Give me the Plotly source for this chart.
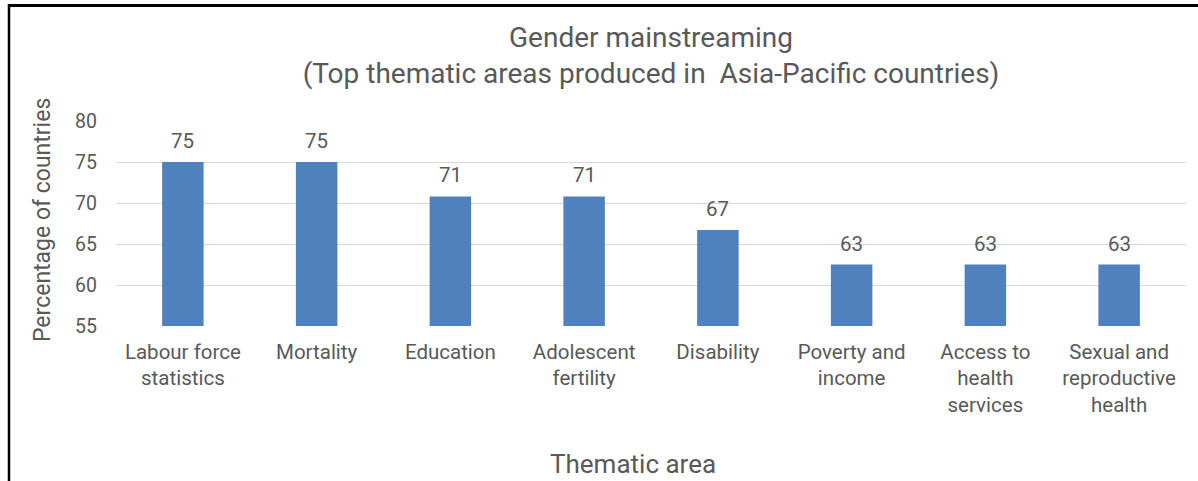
import math
import plotly.graph_objects as go

# Thematic areas and share of countries (%) producing gender statistics in each
categories = [
    "Labour force<br>statistics",
    "Mortality",
    "Education",
    "Adolescent<br>fertility",
    "Disability",
    "Poverty and<br>income",
    "Access to<br>health<br>services",
    "Sexual and<br>reproductive<br>health",
]
values = [75.0, 75.0, 70.8, 70.8, 66.7, 62.5, 62.5, 62.5]
y_ticks = [55, 60, 65, 70, 75, 80]

TEXT = "#595959"
FONT = "Roboto"
BAR = "#4F81BD"

W, H = 1198, 481
ML, MR, MT, MB = 116, 12, 121, 155
pw = W - ML - MR
ph = H - MT - MB


def px_x(x):
    return (x - ML) / pw


def px_y(y):
    return (H - MB - y) / ph


def half_up(v):
    return str(int(math.floor(v + 0.5)))


fig = go.Figure(
    go.Bar(
        x=categories,
        y=values,
        marker=dict(color=BAR, line=dict(width=0)),
        width=0.31,
        hoverinfo="x+y",
    )
)

annotations = [
    dict(
        x=c, y=v, xref="x", yref="y",
        text=half_up(v), showarrow=False,
        yanchor="bottom", yshift=7,
        font=dict(family=FONT, size=20.5, color=TEXT),
    )
    for c, v in zip(categories, values)
]

# Axis titles
annotations.append(dict(
    x=px_x(42), y=px_y(220), xref="paper", yref="paper",
    text="Percentage of countries", textangle=-90, showarrow=False,
    xanchor="center", yanchor="middle",
    font=dict(family=FONT, size=23, color=TEXT),
))
annotations.append(dict(
    x=px_x(633), y=px_y(464), xref="paper", yref="paper",
    text="Thematic area", showarrow=False,
    xanchor="center", yanchor="middle",
    font=dict(family=FONT, size=26, color=TEXT),
))

# Outer frame lines (top and left edges)
shapes = [
    dict(type="line", xref="paper", yref="paper",
         x0=px_x(8), x1=px_x(1198), y0=px_y(5.5), y1=px_y(5.5),
         line=dict(color="#000000", width=3)),
    dict(type="line", xref="paper", yref="paper",
         x0=px_x(9), x1=px_x(9), y0=px_y(4), y1=px_y(490),
         line=dict(color="#000000", width=2.5)),
]

fig.update_layout(
    width=W, height=H,
    margin=dict(l=ML, r=MR, t=MT, b=MB, pad=0),
    paper_bgcolor="white", plot_bgcolor="white",
    showlegend=False,
    font=dict(family=FONT, color=TEXT),
    title=dict(
        text="Gender mainstreaming<br>(Top thematic areas produced in  Asia-Pacific countries)",
        x=px_x(651), xanchor="center", xref="paper",
        y=1 - 47 / H, yanchor="middle",
        font=dict(family=FONT, size=28, color=TEXT),
    ),
    annotations=annotations,
    shapes=shapes,
    bargap=0.69,
)

fig.update_xaxes(
    showline=False, showgrid=False, ticks="",
    tickfont=dict(family=FONT, size=20.5, color=TEXT),
    ticklabelstandoff=11,
)
fig.update_yaxes(
    range=[55, 80], tickvals=y_ticks,
    showgrid=True, gridcolor="#D9D9D9", gridwidth=1.3,
    zeroline=False, showline=False, ticks="",
    tickfont=dict(family=FONT, size=19.5, color=TEXT),
    ticklabelstandoff=18,
)

fig.write_html("out.html")
